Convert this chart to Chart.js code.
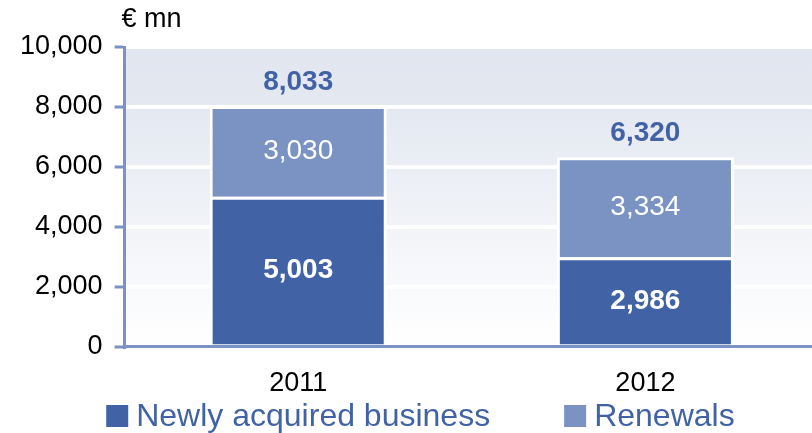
<!DOCTYPE html>
<html>
<head>
<meta charset="utf-8">
<title>Premium volume</title>
<script src="https://cdn.jsdelivr.net/npm/chart.js@4.4.1/dist/chart.umd.min.js"></script>
<style>
  html, body { margin: 0; padding: 0; background: #fff; overflow: hidden; }
  #wrap { width: 830px; height: 433px; }
</style>
</head>
<body>
<div id="wrap"><canvas id="premiumChart" width="830" height="433"></canvas></div>
<script>
const years = ['2011', '2012'];
const newBusiness = [5003, 2986];
const renewals = [3030, 3334];
const unitLabel = '€ mn';

const darkBlue = '#4163a5';
const lightBlue = '#7a93c3';
const axisBlue = '#7a93c4';
const fontFamily = '"Liberation Sans", Arial, sans-serif';

Chart.defaults.font.family = fontFamily;

const fmt = v => Number(v).toLocaleString('en-US');

// soft blue-grey wash behind the bars, fading to white at the baseline
const plotBackground = {
    id: 'plotBackground',
    beforeDraw(chart) {
        const { ctx, chartArea: a } = chart;
        const g = ctx.createLinearGradient(0, a.top, 0, a.bottom);
        g.addColorStop(0, '#e2e6f0');
        g.addColorStop(0.2, '#e4e8f1');
        g.addColorStop(1, '#ffffff');
        ctx.save();
        ctx.fillStyle = g;
        ctx.fillRect(a.left, a.top, a.right - a.left, a.bottom - a.top);
        ctx.restore();
    }
};

// segment values inside the bars and the stack totals on top
const barLabels = {
    id: 'barLabels',
    afterDatasetsDraw(chart) {
        const { ctx } = chart;
        ctx.save();
        ctx.textAlign = 'center';
        ctx.textBaseline = 'middle';
        const tops = [];
        chart.data.datasets.forEach((ds, di) => {
            const meta = chart.getDatasetMeta(di);
            meta.data.forEach((bar, i) => {
                ctx.fillStyle = '#ffffff';
                ctx.font = (di === 0 ? 'bold ' : '') + '28px ' + fontFamily;
                ctx.fillText(fmt(ds.data[i]), bar.x, (bar.y + bar.base) / 2);
                tops[i] = Math.min(tops[i] ?? Infinity, bar.y);
            });
        });
        ctx.fillStyle = darkBlue;
        ctx.font = 'bold 28px ' + fontFamily;
        years.forEach((y, i) => {
            const total = chart.data.datasets.reduce((s, ds) => s + ds.data[i], 0);
            const x = chart.getDatasetMeta(0).data[i].x;
            ctx.fillText(fmt(total), x, tops[i] - 24);
        });
        ctx.restore();
    }
};

// unit above the value axis and a legend with one entry under each year
const unitAndLegend = {
    id: 'unitAndLegend',
    afterDraw(chart) {
        const { ctx, chartArea: a } = chart;
        const xScale = chart.scales.x;
        ctx.save();
        ctx.textBaseline = 'middle';
        ctx.textAlign = 'left';
        ctx.fillStyle = '#000';
        ctx.font = '27px ' + fontFamily;
        ctx.fillText(unitLabel, a.left - 3, 20);

        ctx.font = '32px ' + fontFamily;
        const box = 22, gap = 8, cy = 416;
        chart.data.datasets.forEach((ds, i) => {
            const tw = ctx.measureText(ds.label).width;
            const total = box + gap + tw;
            const x0 = xScale.getPixelForValue(i) - total / 2 + (i === 0 ? 0 : 4);
            ctx.fillStyle = ds.backgroundColor;
            ctx.fillRect(x0, cy - box / 2, box, box);
            ctx.fillStyle = darkBlue;
            ctx.fillText(ds.label, x0 + box + gap, cy + 1);
        });
        ctx.restore();
    }
};

new Chart(document.getElementById('premiumChart'), {
    type: 'bar',
    data: {
        labels: years,
        datasets: [
            {
                label: 'Newly acquired business',
                data: newBusiness,
                backgroundColor: darkBlue,
                borderColor: '#ffffff',
                borderWidth: 3,
                borderSkipped: 'start'
            },
            {
                label: 'Renewals',
                data: renewals,
                backgroundColor: lightBlue,
                borderColor: '#ffffff',
                borderWidth: 3,
                borderSkipped: 'start'
            }
        ]
    },
    plugins: [plotBackground, barLabels, unitAndLegend],
    options: {
        responsive: false,
        animation: false,
        devicePixelRatio: 1,
        categoryPercentage: 1,
        barPercentage: 0.51,
        layout: { padding: { top: 47, left: 8, right: 11, bottom: 12 } },
        plugins: {
            legend: { display: false },
            tooltip: { enabled: false }
        },
        scales: {
            x: {
                stacked: true,
                grid: { display: false, drawTicks: false },
                border: { display: true, color: axisBlue, width: 3 },
                ticks: { color: '#000', font: { size: 27 }, padding: 21 }
            },
            y: {
                stacked: true,
                min: 0,
                max: 10000,
                grid: {
                    color: '#ffffff',
                    lineWidth: 4,
                    tickColor: axisBlue,
                    tickWidth: 3,
                    tickLength: 10
                },
                border: { display: true, color: axisBlue, width: 3 },
                ticks: {
                    stepSize: 2000,
                    color: '#000',
                    font: { size: 27 },
                    padding: 12,
                    callback: v => fmt(v)
                }
            }
        }
    }
});
</script>
</body>
</html>
